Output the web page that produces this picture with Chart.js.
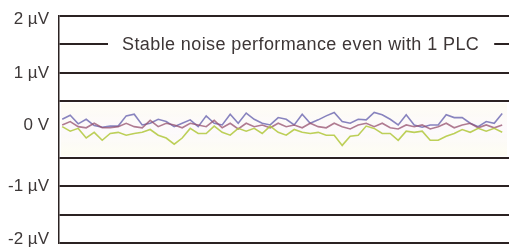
<!DOCTYPE html>
<html>
<head>
<meta charset="utf-8">
<script src="https://cdn.jsdelivr.net/npm/chart.js@4/dist/chart.umd.min.js"></script>
<style>
  html, body { margin: 0; padding: 0; background: #fff; }
  #wrap { width: 509px; height: 248px; position: relative; }
</style>
</head>
<body>
<div id="wrap"><canvas id="noiseChart"></canvas></div>
<script>
// readings in µV, one every sample
const purple = [0.18, 0.25, 0.10, 0.18, 0.07, 0.04, 0.06, 0.06, 0.24, 0.27, 0.08, 0.11, 0.18, 0.14,
    0.05, 0.11, 0.17, 0.05, 0.24, 0.11, 0.08, 0.27, 0.11, 0.29, 0.18, 0.11, 0.08, 0.21,
    0.18, 0.08, 0.27, 0.11, 0.17, 0.24, 0.30, 0.14, 0.11, 0.18, 0.17, 0.30, 0.26, 0.18,
    0.08, 0.26, 0.08, 0.04, 0.08, 0.08, 0.26, 0.21, 0.21, 0.11, 0.05, 0.14, 0.11, 0.28];
const pink = [0.08, 0.14, 0.05, 0.03, 0.11, 0.03, 0.03, 0.05, 0.11, 0.05, 0.03, 0.16, 0.05, 0.11,
    0.08, 0.03, 0.11, 0.08, 0.05, 0.16, 0.03, 0.11, 0.01, 0.11, 0.05, 0.08, 0.03, 0.11,
    0.05, 0.08, 0.03, 0.11, 0.05, 0.03, 0.11, 0.05, 0.01, 0.08, 0.11, 0.05, 0.11, 0.03,
    0.01, 0.08, 0.05, 0.08, 0.01, 0.05, 0.11, 0.03, 0.08, 0.11, 0.03, 0.08, 0.03, 0.08];
const green = [0.05, -0.03, 0.02, -0.15, -0.05, -0.19, -0.07, -0.05, -0.10, -0.07, -0.05, 0, -0.10, -0.15,
    -0.26, -0.15, 0.02, -0.07, -0.07, 0.06, -0.05, -0.10, 0.02, -0.03, 0.02, -0.07, 0.06, -0.05,
    -0.10, 0, -0.05, -0.07, -0.05, -0.10, -0.10, -0.28, -0.12, -0.10, 0.06, 0.02, -0.07, -0.07,
    -0.19, -0.03, -0.05, -0.03, -0.19, -0.19, -0.12, -0.07, 0, -0.05, 0.02, -0.03, 0.02, -0.05];

const tickValues = [2, 1, 0, -1, -2];
const tickLabels = ['2 µV', '1 µV', '0 V', '-1 µV', '-2 µV'];
const note = 'Stable noise performance even with 1 PLC';

function toPoints(arr) {
    return arr.map((v, i) => ({ x: i, y: v }));
}

// small nudges so the labels sit like the original
const labelShift = [3, 1, -4, 0, -4];

// faint band behind the traces, y labels, and the note on the 1.5 µV line
const extras = {
    id: 'extras',
    beforeDatasetsDraw(chart) {
        const { ctx, chartArea, scales } = chart;
        const yTop = scales.y.getPixelForValue(0.5);
        const yBot = scales.y.getPixelForValue(-0.5);
        ctx.save();
        const g = ctx.createLinearGradient(0, yTop, 0, yBot);
        g.addColorStop(0, 'rgba(252,250,232,0.5)');
        g.addColorStop(0.5, 'rgba(250,245,250,0.6)');
        g.addColorStop(1, 'rgba(252,251,228,0.5)');
        ctx.fillStyle = g;
        ctx.fillRect(chartArea.left + 2, yTop + 2, chartArea.width - 4, yBot - yTop - 4);
        ctx.restore();
    },
    afterDraw(chart) {
        const { ctx, chartArea, scales } = chart;
        ctx.save();
        ctx.font = '17px "Liberation Sans", Arial, sans-serif';
        ctx.fillStyle = '#3d3838';
        ctx.textAlign = 'right';
        ctx.textBaseline = 'middle';
        tickValues.forEach((v, i) => {
            ctx.fillText(tickLabels[i], chartArea.left - 10, scales.y.getPixelForValue(v) + labelShift[i]);
        });

        const y = scales.y.getPixelForValue(1.5);
        ctx.font = '18px "Liberation Sans", Arial, sans-serif';
        ctx.letterSpacing = '0.4px';
        ctx.textAlign = 'left';
        const x0 = chartArea.left + 63;
        const w = ctx.measureText(note).width;
        ctx.fillStyle = '#fff';
        ctx.fillRect(chartArea.left + 49, y - 3, (x0 + w + 15) - (chartArea.left + 49), 6);
        ctx.fillStyle = '#3d3636';
        ctx.fillText(note, x0, y + 1);
        ctx.restore();
    }
};

new Chart(document.getElementById('noiseChart'), {
    type: 'line',
    data: {
        datasets: [
            { data: toPoints(green), borderColor: 'rgba(178,200,60,0.85)' },
            { data: toPoints(pink), borderColor: 'rgba(150,80,110,0.75)' },
            { data: toPoints(purple), borderColor: 'rgba(115,110,180,0.85)' }
        ]
    },
    options: {
        responsive: true,
        maintainAspectRatio: false,
        animation: false,
        layout: { padding: { top: 16, bottom: 5, right: 0, left: 0 } },
        elements: {
            point: { radius: 0 },
            line: { borderWidth: 1.6, tension: 0 }
        },
        plugins: { legend: { display: false }, tooltip: { enabled: false } },
        scales: {
            x: {
                type: 'linear',
                min: -0.4,
                max: 55.85,
                display: false
            },
            y: {
                min: -2,
                max: 2,
                afterFit(scale) { scale.width = 59; },
                border: { display: true, color: '#2b2222', width: 1.5 },
                grid: {
                    drawTicks: false,
                    lineWidth: 2,
                    color: (c) => (c.tick && c.tick.value === 0) ? 'rgba(0,0,0,0)' : '#2b2222'
                },
                ticks: {
                    stepSize: 0.5,
                    display: false
                }
            }
        }
    },
    plugins: [extras]
});
</script>
</body>
</html>
